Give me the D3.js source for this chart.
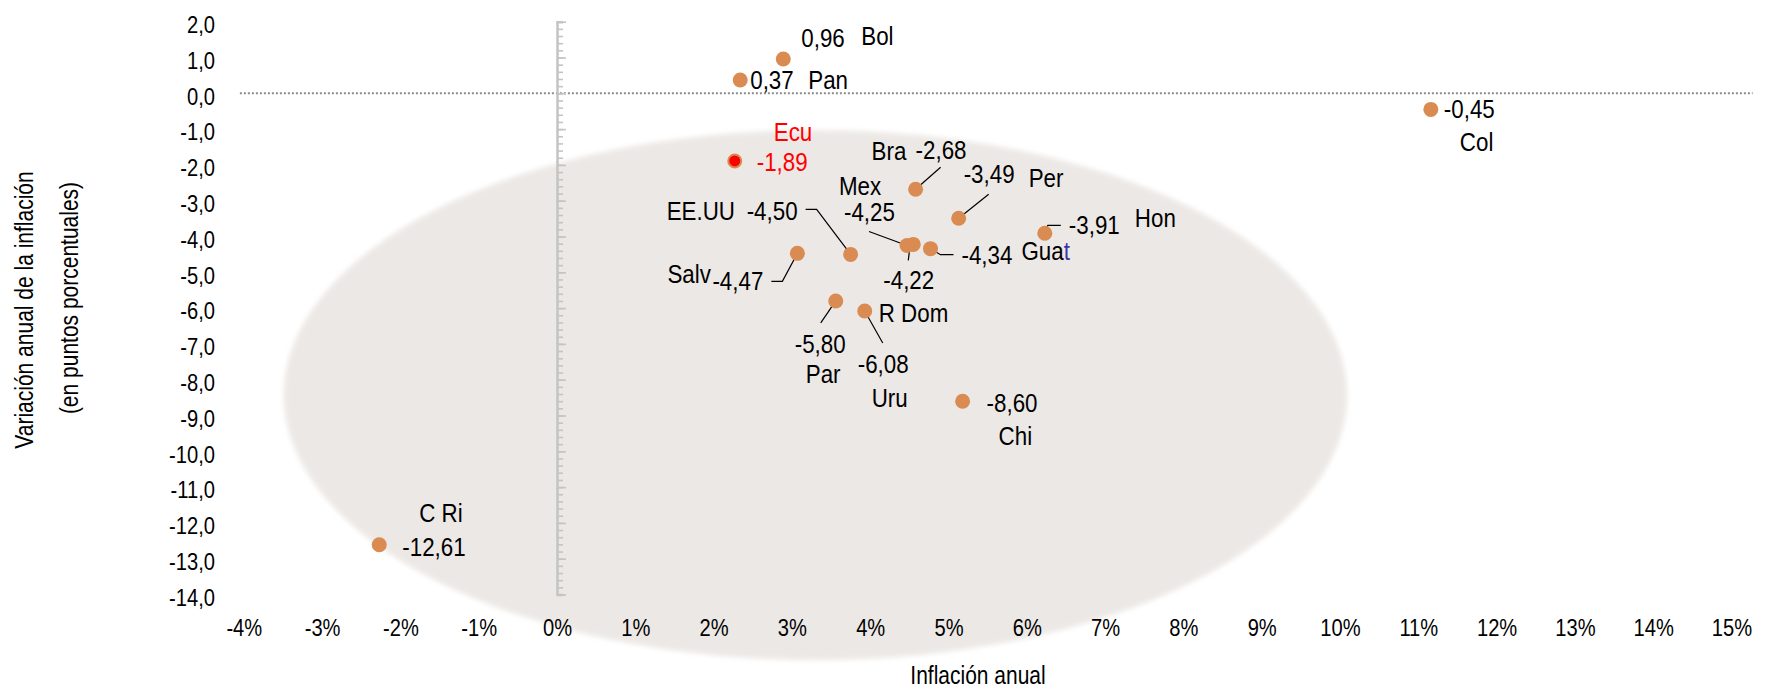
<!DOCTYPE html>
<html>
<head>
<meta charset="utf-8">
<script src="https://cdn.jsdelivr.net/npm/d3@7"></script>
<style>
body { margin: 0; background: #fff; }
text { font-family: "Liberation Sans", Arial, sans-serif; fill: #000; }
</style>
</head>
<body>
<script>
// Data: annual inflation (%) vs change in inflation (pp)
var countries = ["Bol", "Pan", "Col", "Ecu", "Bra", "Per", "Hon", "Guat", "Mex", "", "EE.UU", "Salv", "Par", "Uru", "Chi", "C Ri"];
var inflation = [2.89, 2.34, 11.16, 2.27, 4.58, 5.13, 6.23, 4.77, 4.47, 4.55, 3.75, 3.07, 3.56, 3.93, 5.18, -2.27];
var variation = [0.96, 0.37, -0.45, -1.89, -2.68, -3.49, -3.91, -4.34, -4.25, -4.22, -4.50, -4.47, -5.80, -6.08, -8.60, -12.61];
var xTickValues = [-4, -3, -2, -1, 0, 1, 2, 3, 4, 5, 6, 7, 8, 9, 10, 11, 12, 13, 14, 15];
var yTickValues = [2, 1, 0, -1, -2, -3, -4, -5, -6, -7, -8, -9, -10, -11, -12, -13, -14];
var highlighted = "Ecu";

//Width and height
var w = 1775;
var h = 690;
var narrow = 0.84;     //horizontal squeeze to mimic Arial Narrow (axes)
var narrowLab = 0.86;  //same for the point labels

//Label placement (pixels, relative to the point)
var layout = {
  "Bol":   {v: [18, -12], n: [78, -14]},
  "Pan":   {v: [10, 9], n: [68, 9]},
  "Col":   {v: [13, 9], n: [29, 42]},
  "Ecu":   {v: [22, 10], n: [39, -20]},
  "Bra":   {v: [0, -30], n: [-44, -29], lead: [[0, 0], [25, -22]]},
  "Per":   {v: [5, -35], n: [70, -31], lead: [[0, 0], [30, -24]]},
  "Hon":   {v: [24, 1], n: [90, -6], lead: [[0, 0], [3, -8], [16, -8]]},
  "Guat":  {v: [31, 15], n: [91, 11], lead: [[0, 0], [10, 6], [23, 6]]},
  "Mex":   {v: [-63, -24], n: [-68, -50], lead: [[-38, -14], [0, 0]]},
  "":      {v: [-30, 45], lead: [[-5, 16], [-3, 0]]},
  "EE.UU": {v: [-104, -34], n: [-184, -34], lead: [[-45, -45], [-34, -45], [0, 0]]},
  "Salv":  {v: [-85, 37], n: [-130, 30], lead: [[-26, 28], [-15, 28], [0, 0]]},
  "Par":   {v: [-41, 52], n: [-30, 82], lead: [[0, 0], [-15, 22]]},
  "Uru":   {v: [-7, 62], n: [7, 96], extra: ["R Dom", 14, 11], lead: [[0, 0], [18, 32]]},
  "Chi":   {v: [24, 11], n: [36, 44]},
  "C Ri":  {v: [23, 11], n: [40, -23]}
};

var locale = d3.formatLocale({decimal: ",", thousands: ".", grouping: [3], currency: ["", ""], minus: "-"});
var fmtVal = locale.format(".2f");
var fmtY = locale.format(".1f");

var x = d3.scaleLinear().domain([-4, 15]).range([243.8, 1731.5]);
var y = d3.scaleLinear().domain([-14, 2]).range([594.5, 21.7]);

var svg = d3.select("body")
            .append("svg")
            .attr("width", w)
            .attr("height", h);

function place(px, py, s) {
  return "translate(" + px + "," + py + ") scale(" + (s || narrow) + ",1)";
}

//Soft shaded ellipse behind the cluster
var defs = svg.append("defs");
defs.append("filter").attr("id", "soft")
    .attr("x", "-5%").attr("y", "-5%").attr("width", "110%").attr("height", "110%")
    .append("feGaussianBlur").attr("stdDeviation", 2.5);

var ellCx = 3.30, ellCy = -8.43, ellRx = 6.79, ellRy = 7.4;
svg.append("ellipse")
   .attr("cx", x(ellCx))
   .attr("cy", y(ellCy))
   .attr("rx", x(ellCx + ellRx) - x(ellCx))
   .attr("ry", y(ellCy - ellRy) - y(ellCy))
   .style("fill", "#ece8e5")
   .attr("filter", "url(#soft)");

//Zero line (dotted), runs a little past the last category
svg.append("line")
   .attr("x1", x(-4.05)).attr("x2", x(15.27))
   .attr("y1", y(0)).attr("y2", y(0))
   .style("stroke", "#8c8c8c")
   .style("stroke-width", 2)
   .style("stroke-dasharray", "2,2");

//Vertical axis at 0% with minor ticks
var yAxisLine = svg.append("g").attr("transform", "translate(" + x(0) + ",0)");
yAxisLine.call(d3.axisRight(y).tickValues(d3.range(-14, 2.01, 0.2)).tickSize(6).tickFormat(""));
yAxisLine.append("g").call(d3.axisRight(y).tickValues(yTickValues).tickSize(9).tickFormat(""));
yAxisLine.selectAll("path.domain").style("stroke", "#c4c4c4").style("stroke-width", 2.5);
yAxisLine.selectAll(".tick line").style("stroke", "#c4c4c4").style("stroke-width", 1.6);
yAxisLine.selectAll("g > g > path.domain").remove();

//Y tick labels
var yLab = svg.append("g").attr("transform", "translate(215,0)")
   .call(d3.axisLeft(y).tickValues(yTickValues).tickSize(0).tickPadding(0).tickFormat(fmtY));
yLab.select(".domain").remove();
yLab.selectAll("text")
    .attr("x", null)
    .attr("dy", "0.45em")
    .attr("transform", "scale(" + narrow + ",1)")
    .style("font-size", "24px");

//X tick labels
var xLab = svg.append("g").attr("transform", "translate(0,617)")
   .call(d3.axisBottom(x).tickValues(xTickValues).tickSize(0).tickPadding(0)
         .tickFormat(function(d) { return locale.format("d")(d) + "%"; }));
xLab.select(".domain").remove();
xLab.selectAll("text")
    .attr("y", null)
    .attr("dy", "0.8em")
    .attr("transform", "scale(" + narrow + ",1)")
    .style("font-size", "24px");

//Axis titles
svg.append("text")
   .attr("transform", "translate(33,310) rotate(-90) scale(" + narrow + ",1)")
   .attr("text-anchor", "middle")
   .style("font-size", "25px")
   .text("Variación anual de la inflación");
svg.append("text")
   .attr("transform", "translate(78,298) rotate(-90) scale(" + narrow + ",1)")
   .attr("text-anchor", "middle")
   .style("font-size", "25px")
   .text("(en puntos porcentuales)");
svg.append("text")
   .attr("transform", place(978, 684))
   .attr("text-anchor", "middle")
   .style("font-size", "25px")
   .text("Inflación anual");

var data = countries.map(function(c, i) {
  return {name: c, x: inflation[i], y: variation[i]};
});

//Leader lines
var line = d3.line();
svg.selectAll("path.leader")
   .data(data.filter(function(d) { return layout[d.name].lead; }))
   .enter()
   .append("path")
   .attr("class", "leader")
   .attr("d", function(d) {
     var px = x(d.x), py = y(d.y);
     return line(layout[d.name].lead.map(function(p) { return [px + p[0], py + p[1]]; }));
   })
   .style("fill", "none")
   .style("stroke", "#000")
   .style("stroke-width", 1.2);

//Points
svg.selectAll("circle.pt")
   .data(data)
   .enter()
   .append("circle")
   .attr("class", "pt")
   .attr("cx", function(d) { return x(d.x); })
   .attr("cy", function(d) { return y(d.y); })
   .attr("r", function(d) { return d.name == highlighted ? 6.5 : 7.5; })
   .style("fill", function(d) { return d.name == highlighted ? "#ff0000" : "#d98b51"; })
   .style("stroke", function(d) { return d.name == highlighted ? "#d98b51" : "none"; })
   .style("stroke-width", 2);

//Value labels
svg.selectAll("text.val")
   .data(data)
   .enter()
   .append("text")
   .attr("class", "val")
   .attr("transform", function(d) {
     return place(x(d.x) + layout[d.name].v[0], y(d.y) + layout[d.name].v[1], narrowLab);
   })
   .style("font-size", "26px")
   .style("fill", function(d) { return d.name == highlighted ? "#ff0000" : "#000"; })
   .text(function(d) { return fmtVal(d.y); });

//Name labels
var names = svg.selectAll("text.name")
   .data(data.filter(function(d) { return layout[d.name].n; }))
   .enter()
   .append("text")
   .attr("class", "name")
   .attr("transform", function(d) {
     return place(x(d.x) + layout[d.name].n[0], y(d.y) + layout[d.name].n[1], narrowLab);
   })
   .style("font-size", "26px")
   .style("fill", function(d) { return d.name == highlighted ? "#ff0000" : "#000"; });
names.each(function(d) {
  var t = d3.select(this);
  if (d.name == "Guat") {
    t.append("tspan").text("Gua");
    t.append("tspan").style("fill", "#3a36a8").text("t");
  } else {
    t.text(d.name);
  }
});

//Extra names sharing a point
data.filter(function(d) { return layout[d.name].extra; }).forEach(function(d) {
  var e = layout[d.name].extra;
  svg.append("text")
     .attr("transform", place(x(d.x) + e[1], y(d.y) + e[2], narrowLab))
     .style("font-size", "26px")
     .text(e[0]);
});
</script>
</body>
</html>
